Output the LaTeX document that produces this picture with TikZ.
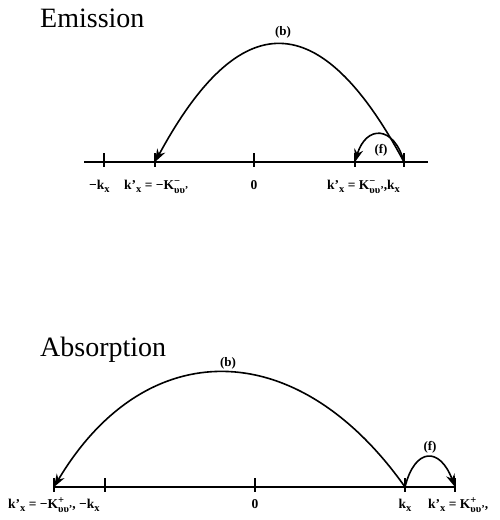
\documentclass[tikz,border=0pt]{standalone}
\usepackage{fontspec}
\setmainfont{Liberation Serif}
\usetikzlibrary{arrows.meta}
\newcommand\smallsub[1]{\raisebox{-0.55ex}{\fontsize{10.5}{11}\selectfont #1}}
\newcommand\supsub[2]{\raisebox{-0.75ex}{\fontsize{10.5}{8.5}\selectfont\renewcommand\arraystretch{1}\begin{tabular}[b]{@{}l@{}}#1\\#2\end{tabular}}}
\newcommand\kx{k\smallsub{x}}
\newcommand\kpx{k'\smallsub{x}}
\begin{document}
\begin{tikzpicture}[x=1pt,y=-1pt,
  axis/.style={line width=1.6pt},
  tickmark/.style={line width=1.6pt},
  arc/.style={line width=1.6pt,-{Stealth[length=13pt,width=9pt]}},
  lab/.style={font=\fontsize{13.5}{15}\selectfont\bfseries,inner sep=0pt,anchor=base west},
  tag/.style={font=\fontsize{13}{15}\selectfont\bfseries,inner sep=0pt},
  title/.style={font=\fontsize{28}{31}\selectfont,inner sep=0pt,anchor=base west}]
\useasboundingbox (0,0) rectangle (500,520);
% ---------------- Emission ----------------
\node[title] (etitle) at (40,27) {Emission};
\coordinate (eL) at (84,162);
\coordinate (eR) at (428,162);
\draw[axis] (eL) -- (eR);
\coordinate (e1) at (104,162);
\coordinate (e2) at (155,162);
\coordinate (e3) at (254,162);
\coordinate (e4) at (355,162);
\coordinate (e5) at (404,162);
\foreach \c in {e1,e2,e3,e4,e5}
  \draw[tickmark] ([yshift=9pt]\c) -- ([yshift=-5pt]\c);
\draw[arc] (e5) .. controls (320,5) and (240,5) .. (e2);
\draw[arc] (e5) .. controls (394,125) and (366,125) .. (e4);
\node[tag] (eb) at (283,32) {(b)};
\node[tag] (ef) at (381,150) {(f)};
\node[lab] (el1) at (89,189) {−\kx};
\node[lab] (el2) at (124,189) {\kpx\ =\ −K\supsub{−}{υυ'}};
\node[lab,anchor=base] (el3) at (254,189) {0};
\node[lab] (el4) at (327,189) {\kpx\ =\ K\supsub{−}{υυ'},\kx};
% ---------------- Absorption ----------------
\node[title] (atitle) at (40,356) {Absorption};
\coordinate (aL) at (54,487);
\coordinate (aR) at (455,487);
\draw[axis] (aL) -- (aR);
\coordinate (a1) at (54,487);
\coordinate (a2) at (105,487);
\coordinate (a3) at (255,487);
\coordinate (a4) at (405,487);
\coordinate (a5) at (455,487);
\foreach \c in {a1,a2,a3,a4,a5}
  \draw[tickmark] ([yshift=9pt]\c) -- ([yshift=-5pt]\c);
\draw[arc] (a4) .. controls (297,334) and (145,334) .. (a1);
\draw[arc] (a4) .. controls (415,447) and (440,447) .. (a5);
\node[tag] (ab) at (228,363) {(b)};
\node[tag] (af) at (430,447) {(f)};
\node[lab] (al1) at (8,508) {\kpx\ =\ −K\supsub{+}{υυ'},\ −\kx};
\node[lab,anchor=base] (al2) at (255,508) {0};
\node[lab,anchor=base] (al3) at (405,508) {\kx};
\node[lab] (al4) at (428,508) {\kpx\ =\ K\supsub{+}{υυ'},};
\end{tikzpicture}
\end{document}
